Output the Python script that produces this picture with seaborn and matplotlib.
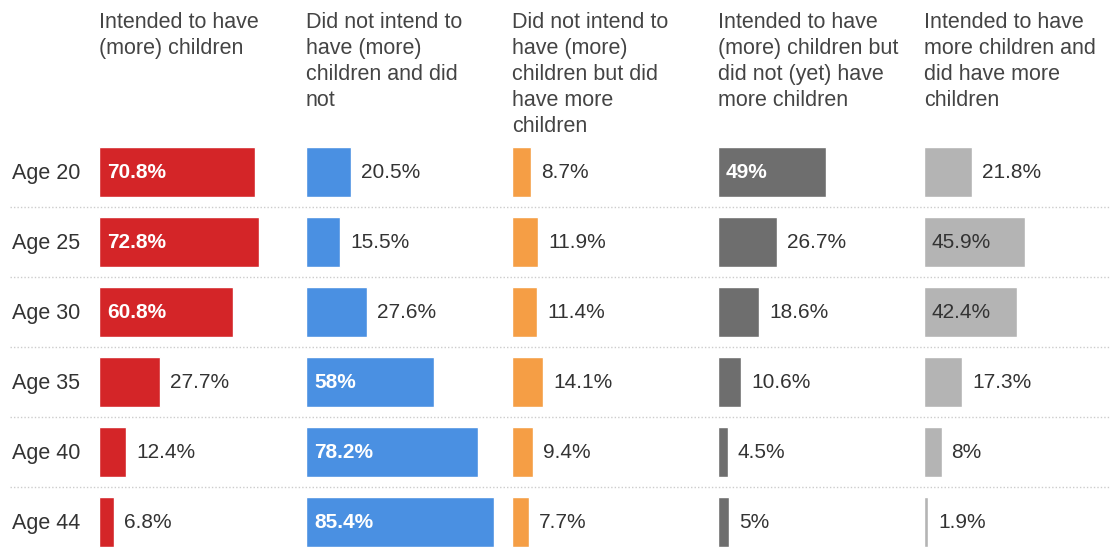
import numpy as np
import pandas as pd
import matplotlib
matplotlib.use('Agg')
import matplotlib.pyplot as plt
import seaborn as sns

# --- 데이터 ---
AGES = ['Age 20', 'Age 25', 'Age 30', 'Age 35', 'Age 40', 'Age 44']
HEADERS = [
    'Intended to have\n(more) children',
    'Did not intend to\nhave (more)\nchildren and did\nnot',
    'Did not intend to\nhave (more)\nchildren but did\nhave more\nchildren',
    'Intended to have\n(more) children but\ndid not (yet) have\nmore children',
    'Intended to have\nmore children and\ndid have more\nchildren',
]
INTENDED = [70.8, 72.8, 60.8, 27.7, 12.4, 6.8]
NOT_INTEND_NOT = [20.5, 15.5, 27.6, 58.0, 78.2, 85.4]
NOT_INTEND_DID = [8.7, 11.9, 11.4, 14.1, 9.4, 7.7]
INTEND_NOT_YET = [49.0, 26.7, 18.6, 10.6, 4.5, 5.0]
INTEND_DID = [21.8, 45.9, 42.4, 17.3, 8.0, 1.9]
SERIES = [INTENDED, NOT_INTEND_NOT, NOT_INTEND_DID, INTEND_NOT_YET, INTEND_DID]

COLORS = ['#D42528', '#4A90E2', '#F59E45', '#6E6E6E', '#B4B4B4']
INSIDE_TEXT = ['white', 'white', 'white', 'white', '#333333']
INSIDE_WEIGHT = ['bold', 'bold', 'bold', 'bold', 'normal']

sns.set_theme(style='white')
plt.rcParams['font.family'] = ['Liberation Sans', 'DejaVu Sans']

W, H = 1110, 548
fig = plt.figure(figsize=(W / 100, H / 100), dpi=100)

# 축 위치 (픽셀)
top_px, bottom_px = 137, 557
ax_b = (H - bottom_px) / H
ax_h = (bottom_px - top_px) / H
panel_left = [99, 306, 512, 718, 924]
panel_w = 206
px_per_pct = 2.2
xmax = panel_w / px_per_pct

# 구분선용 배경 축
bg = fig.add_axes([0, ax_b, 1, ax_h])
bg.set_xlim(0, 1)
bg.set_ylim(len(AGES) - 0.5, -0.5)
bg.axis('off')
for i in range(len(AGES) - 1):
    bg.axhline(i + 0.5, xmin=0.009, xmax=1, color='#cccccc', lw=1, ls=(0, (1, 1.5)))
for i, age in enumerate(AGES):
    bg.text(12 / W, i + 0.02, age, ha='left', va='center', fontsize=15.5, color='#333333')

for k, vals in enumerate(SERIES):
    ax = fig.add_axes([panel_left[k] / W, ax_b, panel_w / W, ax_h])
    df = pd.DataFrame({'age': AGES, 'value': vals})
    sns.barplot(data=df, x='value', y='age', orient='h', color=COLORS[k],
                width=0.71, saturation=1, ax=ax)
    ax.set_xlim(0, xmax)
    ax.set_ylim(len(AGES) - 0.5, -0.5)
    ax.axis('off')
    for i, v in enumerate(vals):
        lab = f'{v:g}%'
        if v >= 35:
            ax.text(8 / px_per_pct, i, lab, ha='left', va='center', fontsize=15,
                    color=INSIDE_TEXT[k], fontweight=INSIDE_WEIGHT[k])
        else:
            ax.text(v + 10 / px_per_pct, i, lab, ha='left', va='center',
                    fontsize=15, color='#333333')
    fig.text(panel_left[k] / W, 1 - 12 / H, HEADERS[k], ha='left', va='top',
             fontsize=15.5, color='#444444', linespacing=1.31)

fig.savefig('out.png', dpi=100)
